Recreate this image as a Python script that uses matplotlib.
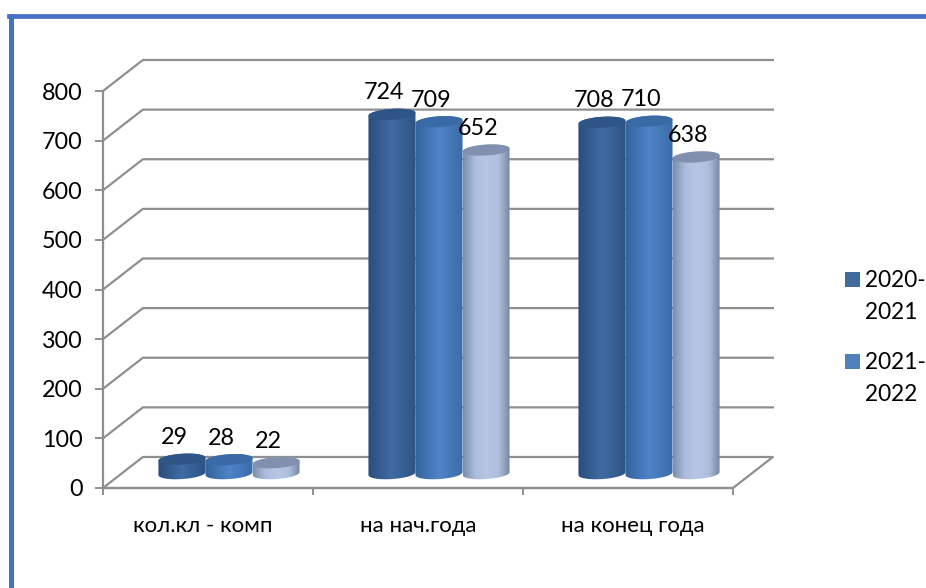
import matplotlib
matplotlib.use('Agg')
import matplotlib.pyplot as plt
import numpy as np
from matplotlib.colors import LinearSegmentedColormap
from matplotlib.lines import Line2D
from matplotlib.patches import Polygon, Rectangle

plt.rcParams['font.family'] = ['Lato', 'Open Sans', 'DejaVu Sans']

categories = ['кол.кл - комп', 'на нач.года', 'на конец года']
series_names = ['2020-\n2021', '2021-\n2022']
v2020 = [29, 724, 708]
v2021 = [28, 709, 710]
v2022 = [22, 652, 638]
yticks = [0, 100, 200, 300, 400, 500, 600, 700, 800]

# side colours of each cylinder, left to right
shades = [['#2b4d7c', '#3f6ca4', '#2e5383'],
          ['#34639c', '#4f84c8', '#3a6ca8'],
          ['#7d8dad', '#acbedd', '#b6c7e5', '#aebfdd', '#74829e']]
tops = ['#2f5586', '#3a6aa6', '#8090ae']
legend_cols = ['#3f6a9e', '#4f81bd']

W, H = 926, 588
fig = plt.figure(figsize=(W / 100, H / 100), dpi=100)
ax = fig.add_axes([103 / W, 100 / H, 630 / W, 397 / H])

# fake 3d: how far the back wall is shifted from the front plane
dx = 0.19
dy = 62.5
bar_w = 0.224
base_x = 0.1
base_y = 29
ry = 11
tilt = 3
grid_c = '#8f8f8f'

for v in yticks[1:]:
    ax.plot([0, dx, 3 + dx], [v, v + dy, v + dy], color=grid_c, lw=1.6,
            clip_on=False, zorder=1)
ax.plot([0, dx, 3 + dx, 3, 0], [0, dy, dy, 0, 0], color=grid_c, lw=1.6,
        clip_on=False, zorder=1)

t = np.linspace(0, np.pi, 60)


def draw_bar(cx, value, n):
    left, right = cx - bar_w / 2, cx + bar_w / 2
    xs = np.cos(t) * bar_w / 2
    # lower half of the base, right to left, then the upper edge
    low_x = cx + xs
    low_y = base_y - ry * np.sin(t) + tilt * np.cos(t)
    up_x = cx - xs
    up_y = base_y + value + ry * np.sin(t) - tilt * np.cos(t)
    side = Polygon(np.column_stack([np.r_[low_x, up_x], np.r_[low_y, up_y]]),
                   transform=ax.transData, fill=False, lw=0)
    ax.add_patch(side)
    cmap = LinearSegmentedColormap.from_list('c', shades[n])
    img = ax.imshow(np.linspace(0, 1, 64)[None, :], cmap=cmap, aspect='auto',
                    extent=[left, right, 0, base_y + value + ry + tilt],
                    zorder=3 + n, interpolation='bilinear')
    img.set_clip_path(side)
    # top ellipse, rises a little to the right
    a = np.linspace(0, 2 * np.pi, 120)
    ex = cx + np.cos(a) * bar_w / 2
    ey = base_y + value + ry * np.sin(a) + tilt * np.cos(a)
    ax.add_patch(Polygon(np.column_stack([ex, ey]), color=tops[n], lw=0,
                         zorder=3 + n + 0.5, clip_on=False))
    ax.annotate(str(value), (cx, base_y + value), xytext=(-5.5, 15.5),
                textcoords='offset points', ha='center', va='center',
                fontsize=16.8, color='black', zorder=10, annotation_clip=False)


for n, vals in enumerate([v2020, v2021, v2022]):
    for i, v in enumerate(vals):
        cx = i + 0.5 + base_x + (n - 1) * bar_w
        draw_bar(cx, v, n)

ax.set_xlim(0, 3)
ax.set_ylim(0, 800)
for s in ['top', 'right']:
    ax.spines[s].set_visible(False)
for s in ['left', 'bottom']:
    ax.spines[s].set_color(grid_c)
    ax.spines[s].set_linewidth(1.6)
ax.patch.set_visible(False)
ax.set_yticks(yticks)
ax.set_xticks([0, 1, 2, 3])
ax.set_xticklabels([])
# labels are not quite centred in the reference
ax.set_xticks([0.475, 1.5, 2.525], minor=True)
ax.set_xticklabels(categories, minor=True)
ax.tick_params(axis='x', which='major', length=5, width=1.4, color=grid_c)
ax.tick_params(axis='x', which='minor', length=0, pad=20, labelsize=16)
ax.tick_params(axis='y', length=5.5, width=1.4, color=grid_c, pad=9, labelsize=16.8)
plt.setp(ax.get_yticklabels(), va='center_baseline')

# legend by hand: the square sits on the first line of each wrapped label
for name, col, top in zip(series_names, legend_cols, [272, 354]):
    fig.add_artist(Rectangle((845 / W, 1 - (top + 14.5) / H), 14.5 / W, 14.5 / H,
                             color=col, lw=0, transform=fig.transFigure))
    fig.text(865 / W, 1 - (top - 2) / H, name, fontsize=16.3, va='top', ha='left',
             linespacing=1.62)

# blue frame, runs off the picture on the right and at the bottom
c = '#4472c4'
fig.add_artist(Line2D([10.5 / W, 10.5 / W], [0, 1 - 16 / H], color=c, lw=3.6))
fig.add_artist(Line2D([8.7 / W, 1], [1 - 16 / H, 1 - 16 / H], color=c, lw=3.4))

fig.savefig('out.png', dpi=100)
